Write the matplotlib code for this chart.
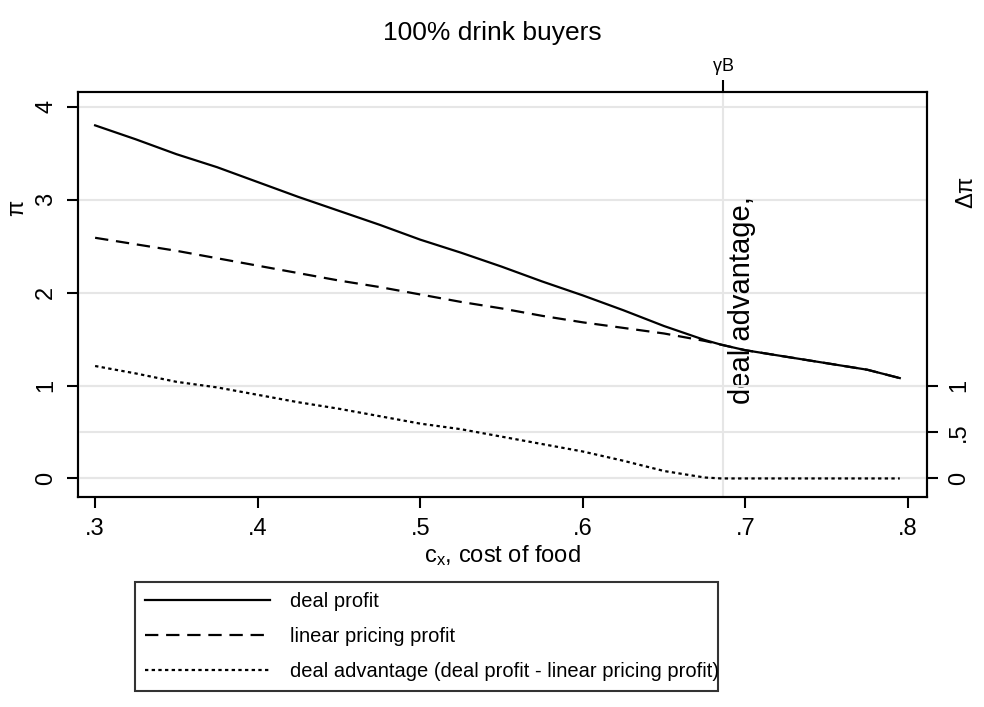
import matplotlib
matplotlib.use("Agg")
import matplotlib.pyplot as plt

plt.rcParams["font.family"] = ["Liberation Sans", "DejaVu Sans"]
plt.rcParams["mathtext.fontset"] = "custom"
plt.rcParams["mathtext.rm"] = "Liberation Sans"
plt.rcParams["mathtext.it"] = "Liberation Sans"

# cost of food and the profits
cost = [0.300, 0.325, 0.350, 0.375, 0.400, 0.425, 0.450, 0.475, 0.500, 0.525, 0.550,
        0.575, 0.600, 0.625, 0.650, 0.675, 0.685, 0.700, 0.725, 0.750, 0.775, 0.795]
deal_profit = [3.80, 3.65, 3.49, 3.35, 3.19, 3.03, 2.88, 2.73, 2.57, 2.43, 2.28,
               2.12, 1.97, 1.81, 1.64, 1.49, 1.44, 1.38, 1.31, 1.24, 1.17, 1.08]
linear_profit = [2.59, 2.52, 2.45, 2.37, 2.29, 2.21, 2.13, 2.06, 1.98, 1.90, 1.83,
                 1.75, 1.68, 1.62, 1.56, 1.48, 1.44, 1.38, 1.31, 1.24, 1.17, 1.08]
deal_advantage = [1.21, 1.13, 1.04, 0.98, 0.90, 0.82, 0.75, 0.67, 0.59, 0.53, 0.45,
                  0.37, 0.29, 0.19, 0.08, 0.01, 0.00, 0.00, 0.00, 0.00, 0.00, 0.00]

gamma_b = 0.6865
x_ticks = [0.3, 0.4, 0.5, 0.6, 0.7, 0.8]
x_labels = [".3", ".4", ".5", ".6", ".7", ".8"]
left_ticks = [0, 1, 2, 3, 4]
right_ticks = [0, 0.5, 1]
right_labels = ["0", ".5", "1"]

GRID = "#e6e6e6"
FS = 17

fig = plt.figure(figsize=(9.84, 7.07), dpi=100)
ax = fig.add_axes([0.0793, 0.297, 0.8627, 0.573])
ax2 = ax.twinx()

ax.set_xlim(0.2895, 0.8117)
ax.set_ylim(-0.2, 4.16)
ax2.set_ylim(-0.2, 4.16)

ax.set_axisbelow(True)
ax.grid(axis="y", color=GRID, lw=1.5)
ax2.grid(axis="y", color=GRID, lw=1.5)
ax.axvline(gamma_b, color=GRID, lw=1.5, zorder=0)

l1, = ax.plot(cost, deal_profit, color="black", lw=1.6, label="deal profit")
l2, = ax.plot(cost, linear_profit, color="black", lw=1.6, ls=(0, (6, 3.5)),
              label="linear pricing profit")
l3, = ax2.plot(cost, deal_advantage, color="black", lw=1.6, ls=(0, (1.5, 1.5)),
               label="deal advantage (deal profit - linear pricing profit)")

for a in (ax, ax2):
    for s in a.spines.values():
        s.set_linewidth(1.5)
    a.tick_params(direction="out", length=8, width=1.5, pad=7)

ax.set_xticks(x_ticks)
ax.set_xticklabels(x_labels, fontsize=FS)
ax.set_yticks(left_ticks)
ax.set_yticklabels([str(t) for t in left_ticks], rotation=90, va="center", fontsize=FS)
ax2.set_yticks(right_ticks)
ax2.set_yticklabels(right_labels, rotation=90, va="center", fontsize=FS)

# top tick marking gamma_B
top = ax.secondary_xaxis("top")
top.set_xticks([gamma_b])
top.set_xticklabels([r"$\gamma$B"], fontsize=13)
top.tick_params(direction="out", length=9, width=1.5, pad=2)
top.spines["top"].set_visible(False)

ax.text(0.698, 0.8, "deal advantage,", rotation=90, ha="center",
        va="bottom", fontsize=21)

ax.set_xlabel(r"c$_{\mathrm{x}}$, cost of food", fontsize=17, labelpad=2)
fig.text(0.018, 1 - 208 / 707, r"$\pi$", rotation=90, ha="center", va="center", fontsize=FS)
fig.text(0.983, 1 - 193 / 707, r"$\Delta\pi$", rotation=90, ha="center", va="center",
         fontsize=FS)
fig.text(0.5, 1 - 33 / 707, "100% drink buyers", ha="center", va="center", fontsize=19)

leg = fig.legend(handles=[l1, l2, l3], loc="upper left",
                 bbox_to_anchor=(0.137, 1 - 582 / 707, 0.593, 0.0), mode="expand",
                 frameon=True, fancybox=False, edgecolor="black", fontsize=14.5,
                 handlelength=6.2, handletextpad=1.0, borderpad=0.5,
                 labelspacing=0.8, borderaxespad=0)
leg.get_frame().set_linewidth(1.5)

fig.savefig("out.png", dpi=100)
